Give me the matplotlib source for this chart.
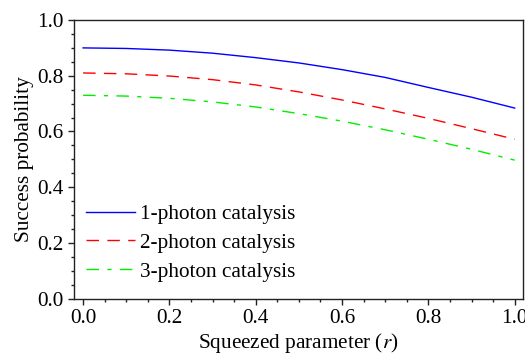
import matplotlib
matplotlib.use('Agg')
import matplotlib.pyplot as plt
from matplotlib.ticker import MultipleLocator

# squeezing parameter r and success probabilities
r = [0.0, 0.1, 0.2, 0.3, 0.4, 0.5, 0.6, 0.7, 0.8, 0.9, 1.0]
p1 = [0.900, 0.898, 0.892, 0.881, 0.865, 0.846, 0.822, 0.794, 0.758, 0.723, 0.684]
p2 = [0.810, 0.807, 0.799, 0.786, 0.767, 0.742, 0.713, 0.681, 0.647, 0.610, 0.572]
p3 = [0.730, 0.727, 0.719, 0.706, 0.688, 0.664, 0.637, 0.606, 0.572, 0.536, 0.497]
labels = ['1-photon catalysis', '2-photon catalysis', '3-photon catalysis']

plt.rcParams['font.family'] = ['Liberation Serif', 'DejaVu Serif']
plt.rcParams['mathtext.fontset'] = 'stix'

fig = plt.figure(figsize=(5.25, 3.58), dpi=100)
ax = fig.add_axes([0.141, 0.166, 0.855, 0.778])

ax.plot(r, p1, color='#0000ff', lw=1.0, label=labels[0])
ax.plot(r, p2, color='#ff0000', lw=1.0, dashes=(9, 6), label=labels[1])
ax.plot(r, p3, color='#00ee00', lw=1.0, dashes=(9, 6, 3, 6), label=labels[2])

ax.set_xlim(-0.021, 1.019)
ax.set_ylim(0, 1.0)
ax.xaxis.set_major_locator(MultipleLocator(0.2))
ax.xaxis.set_minor_locator(MultipleLocator(0.05))
ax.yaxis.set_major_locator(MultipleLocator(0.2))
ax.yaxis.set_minor_locator(MultipleLocator(0.05))
ax.xaxis.set_major_formatter(plt.FormatStrFormatter('%.1f'))
ax.yaxis.set_major_formatter(plt.FormatStrFormatter('%.1f'))
ax.tick_params(which='major', direction='out', length=4, width=1, labelsize=15.3, colors='#222222')
ax.tick_params(which='minor', direction='out', length=2, width=1, colors='#222222')
ax.tick_params(labelcolor='black')
for s in ax.spines.values():
    s.set_color('#222222')
    s.set_linewidth(1.0)

ax.set_xlabel('Squeezed parameter ($\\it{r}$)', fontsize=15.3, labelpad=2)
ax.set_ylabel('Success probability', fontsize=15.3, labelpad=2)

ax.legend(loc='upper left', bbox_to_anchor=(0.027, 0.339), frameon=False, fontsize=15.3,
          borderpad=0, borderaxespad=0,
          handlelength=2.3, handletextpad=0.25, labelspacing=0.42)

fig.savefig('out.png', dpi=100)
